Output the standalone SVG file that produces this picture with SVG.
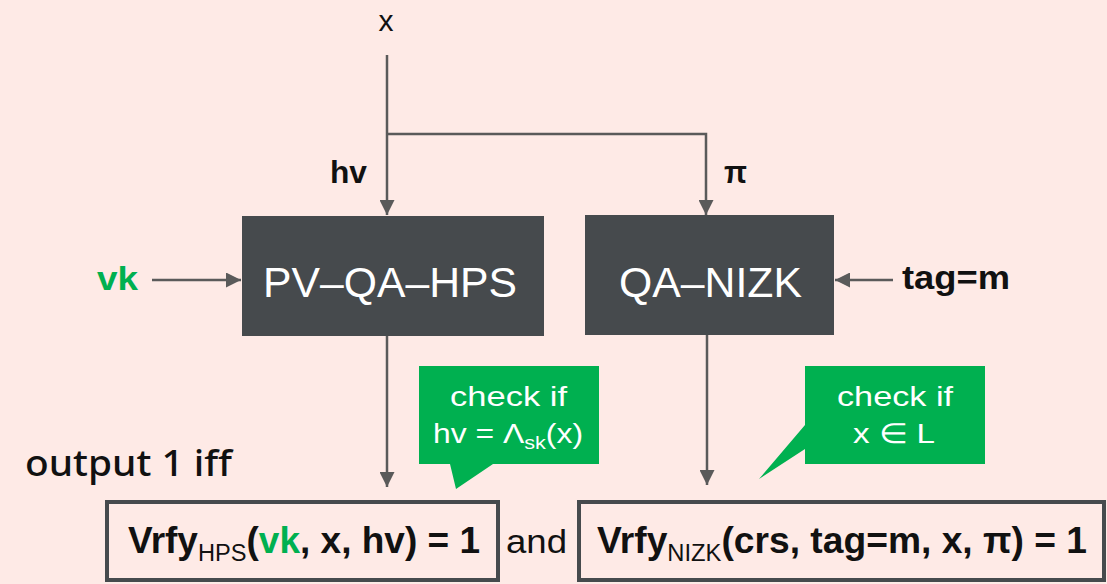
<svg xmlns="http://www.w3.org/2000/svg" width="1107" height="584" viewBox="0 0 1107 584">
  <style>
    .lbl { font-family: "Liberation Sans", Arial, sans-serif; fill: #111; }
    .b { font-weight: bold; }
    .blk { fill: #464A4D; }
    .blkt { font-family: "Liberation Sans", Arial, sans-serif; font-size: 43px; fill: #fff; }
    .call { fill: #00B050; }
    .callt { font-family: "Liberation Sans", Arial, sans-serif; font-size: 28px; fill: #fff; }
    .wire { stroke: #5A5A5A; stroke-width: 2.5; fill: none; }
    .res { fill: #FEEAE6; stroke: #464A4D; stroke-width: 4; }
    .green { fill: #00B050; }
    .out { font-family: "Noto Sans", "Liberation Sans", sans-serif; font-weight: 500; fill: #111; }
  </style>
  <defs>
    <marker id="ah" viewBox="0 0 10 10" refX="10" refY="5" markerWidth="6" markerHeight="6" orient="auto" markerUnits="strokeWidth">
      <path d="M0,0 L10,5 L0,10 Z" fill="#5A5A5A"/>
    </marker>
  </defs>

  <rect x="0" y="0" width="1107" height="584" fill="#FEEAE6"/>

  <!-- input labels -->
  <text class="lbl" x="386" y="31" font-size="30" text-anchor="middle">x</text>
  <text class="lbl b" x="330" y="183" font-size="32" textLength="37" lengthAdjust="spacingAndGlyphs">hv</text>
  <text class="lbl b" x="724" y="183" font-size="32" textLength="23" lengthAdjust="spacingAndGlyphs">π</text>
  <text class="lbl b green" x="97" y="290" font-size="34" textLength="41" lengthAdjust="spacingAndGlyphs">vk</text>
  <text class="lbl b" x="902" y="289" font-size="34" textLength="108" lengthAdjust="spacingAndGlyphs">tag=m</text>

  <!-- connectors -->
  <g id="connectors">
    <path class="wire" d="M387,55 V215" marker-end="url(#ah)"/>
    <path class="wire" d="M387,134 H706 V215" marker-end="url(#ah)"/>
    <path class="wire" d="M152,280 H241" marker-end="url(#ah)"/>
    <path class="wire" d="M893,280 H835" marker-end="url(#ah)"/>
    <path class="wire" d="M387,336 V487" marker-end="url(#ah)"/>
    <path class="wire" d="M707,335 V485" marker-end="url(#ah)"/>
  </g>

  <!-- PV-QA-HPS block -->
  <g id="pv-qa-hps">
    <rect class="blk" x="242" y="216" width="302" height="120"/>
    <text class="blkt" x="263" y="297" textLength="254" lengthAdjust="spacingAndGlyphs">PV–QA–HPS</text>
  </g>

  <!-- QA-NIZK block -->
  <g id="qa-nizk">
    <rect class="blk" x="585" y="215" width="249" height="120"/>
    <text class="blkt" x="619" y="297" textLength="183" lengthAdjust="spacingAndGlyphs">QA–NIZK</text>
  </g>

  <!-- callout: hash proof check -->
  <g id="check-hps">
    <path class="call" d="M419,366 H599 V464 H493 L456,489 L450,464 H419 Z"/>
    <text class="callt" x="450" y="406" textLength="117" lengthAdjust="spacingAndGlyphs">check if</text>
    <text class="callt" x="433" y="443" textLength="150" lengthAdjust="spacingAndGlyphs">hv = Λ<tspan font-size="19" dy="6">sk</tspan><tspan dy="-6">(x)</tspan></text>
  </g>

  <!-- callout: language membership check -->
  <g id="check-nizk">
    <path class="call" d="M805,366 H985 V464 H805 V449 L759,479 L805,425 Z"/>
    <text class="callt" x="837" y="406" textLength="116" lengthAdjust="spacingAndGlyphs">check if</text>
    <text class="callt" x="853" y="443" textLength="82" lengthAdjust="spacingAndGlyphs">x ∈ L</text>
  </g>

  <text class="out" x="25" y="476" font-size="36" textLength="207" lengthAdjust="spacingAndGlyphs">output 1 iff</text>

  <!-- verification results -->
  <g id="vrfy-hps">
    <rect class="res" x="107" y="502" width="391" height="78"/>
    <text class="lbl b" x="128" y="553" font-size="36" textLength="352" lengthAdjust="spacingAndGlyphs">Vrfy<tspan font-size="23" font-weight="normal" dy="8">HPS</tspan><tspan dy="-8">(</tspan><tspan class="green">vk</tspan>, x, hv) = 1</text>
  </g>

  <text class="lbl" x="506" y="553" font-size="34" textLength="61" lengthAdjust="spacingAndGlyphs">and</text>

  <g id="vrfy-nizk">
    <rect class="res" x="579" y="502" width="525" height="78"/>
    <text class="lbl b" x="597" y="553" font-size="36" textLength="490" lengthAdjust="spacingAndGlyphs">Vrfy<tspan font-size="23" font-weight="normal" dy="8">NIZK</tspan><tspan dy="-8">(crs, tag=m, x, π) = 1</tspan></text>
  </g>
</svg>
